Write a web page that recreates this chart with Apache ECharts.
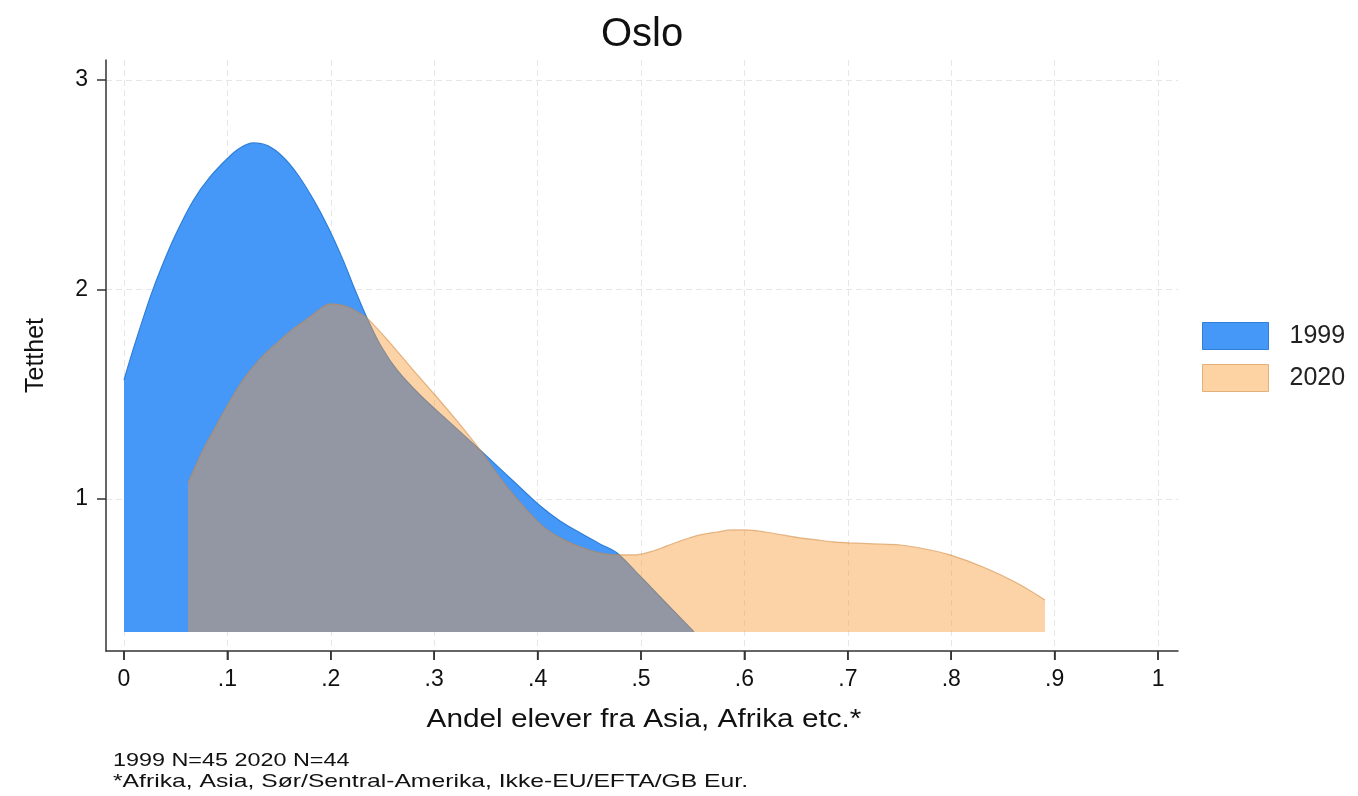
<!DOCTYPE html>
<html>
<head>
<meta charset="utf-8">
<script src="https://cdn.jsdelivr.net/npm/echarts@6/dist/echarts.min.js"></script>
<style>
html,body{margin:0;padding:0;background:#fff;}
#chart{width:1358px;height:796px;}
</style>
</head>
<body>
<div id="chart"></div>
<script>
// ---- data ----
const x1999 = [0, 0.0087, 0.0174, 0.0261, 0.0368, 0.0493, 0.0667, 0.0832, 0.1025, 0.1122, 0.1248, 0.1393, 0.1538, 0.1683, 0.1828, 0.1973, 0.2118, 0.2234, 0.2350, 0.2485, 0.2640, 0.2863, 0.3124, 0.3443, 0.3733, 0.4023, 0.4217, 0.4410, 0.4603, 0.4768, 0.4990, 0.5232, 0.5513];
const y1999 = [1.568, 1.711, 1.845, 1.974, 2.112, 2.255, 2.422, 2.537, 2.637, 2.675, 2.699, 2.685, 2.632, 2.546, 2.432, 2.298, 2.141, 1.998, 1.864, 1.730, 1.616, 1.496, 1.377, 1.234, 1.100, 0.967, 0.895, 0.838, 0.785, 0.742, 0.632, 0.508, 0.365];
const x2020 = [0.0619, 0.0764, 0.0832, 0.0986, 0.1151, 0.1315, 0.1480, 0.1634, 0.1799, 0.1896, 0.1992, 0.2137, 0.2244, 0.2350, 0.2573, 0.2795, 0.3008, 0.3221, 0.3443, 0.3704, 0.4023, 0.4217, 0.4410, 0.4603, 0.4768, 0.4942, 0.5087, 0.5251, 0.5406, 0.5571, 0.5735, 0.5880, 0.6025, 0.6199, 0.6373, 0.6538, 0.6702, 0.6857, 0.7021, 0.7263, 0.7505, 0.7747, 0.7988, 0.8308, 0.8636, 0.8907];
const y2020 = [1.076, 1.234, 1.296, 1.434, 1.568, 1.668, 1.745, 1.811, 1.869, 1.907, 1.931, 1.921, 1.897, 1.864, 1.745, 1.616, 1.496, 1.372, 1.234, 1.057, 0.881, 0.814, 0.771, 0.742, 0.733, 0.733, 0.747, 0.776, 0.804, 0.828, 0.842, 0.852, 0.852, 0.842, 0.828, 0.814, 0.804, 0.795, 0.790, 0.785, 0.780, 0.761, 0.733, 0.675, 0.599, 0.518];
const seriesNames = ['1999', '2020'];
const xTicks = [0, 0.1, 0.2, 0.3, 0.4, 0.5, 0.6, 0.7, 0.8, 0.9, 1];
const yTicks = [1, 2, 3];
const areaBase = 0.365;
const titleText = 'Oslo';
const xName = 'Andel elever fra Asia, Afrika etc.*';
const yName = 'Tetthet';
const noteLines = ['1999 N=45 2020 N=44', '*Afrika, Asia, Sør/Sentral-Amerika, Ikke-EU/EFTA/GB Eur.'];

const FONT = '"Liberation Sans", Arial, Helvetica, sans-serif';
const Y_MIN = 0.274, Y_MAX = 3.095;
const pair = (xs, ys) => xs.map((x, i) => [x, ys[i]]);
const fmtX = v => {
  if (Math.abs(v) < 1e-9) return '0';
  if (Math.abs(v - 1) < 1e-9) return '1';
  return '.' + Math.round(v * 10);
};

const chart = echarts.init(document.getElementById('chart'), null, {renderer: 'canvas'});
const gridLine = {show: true, lineStyle: {color: '#e6e6e6', type: [6, 4], width: 1}};
const axisCol = '#333';
chart.setOption({
  backgroundColor: '#ffffff',
  animation: false,
  title: {
    text: titleText, left: 596, top: 10,
    textStyle: {fontFamily: FONT, fontSize: 40, fontWeight: 'normal', color: '#111'}
  },
  grid: {left: 106, right: 180, top: 60, bottom: 145, containLabel: false},
  legend: {
    orient: 'vertical', left: 1202, top: 322, padding: 0,
    itemWidth: 66, itemHeight: 27, itemGap: 14,
    icon: 'rect',
    textStyle: {fontFamily: FONT, fontSize: 25, color: '#222', padding: [0, 0, 0, 16]},
    data: [
      {name: seriesNames[0], itemStyle: {color: '#4598f8', borderColor: '#2f7fd8', borderWidth: 1}},
      {name: seriesNames[1], itemStyle: {color: '#fdd3a4', borderColor: '#e3b07a', borderWidth: 1}}
    ]
  },
  xAxis: {
    type: 'value', min: -0.0174, max: 1.0193, position: 'bottom',
    axisLine: {show: true, onZero: false, lineStyle: {color: axisCol, width: 1.5}},
    axisTick: {show: true, inside: false, length: 9, lineStyle: {color: axisCol, width: 1.5}, customValues: xTicks},
    axisLabel: {show: true, fontFamily: FONT, fontSize: 23, color: '#111', margin: 17, formatter: fmtX, customValues: xTicks},
    splitLine: gridLine
  },
  yAxis: {
    type: 'value', min: Y_MIN, max: Y_MAX,
    name: yName, nameLocation: 'middle', nameGap: 57, nameRotate: 90,
    nameTextStyle: {fontFamily: FONT, fontSize: 25, color: '#111'},
    axisLine: {show: true, onZero: false, lineStyle: {color: axisCol, width: 1.5}},
    axisTick: {show: true, inside: false, length: 9, lineStyle: {color: axisCol, width: 1.5}, customValues: yTicks},
    axisLabel: {fontFamily: FONT, fontSize: 23, color: '#111', margin: 18, customValues: yTicks},
    splitLine: gridLine
  },
  series: [
    {
      name: seriesNames[0], type: 'line',
      smooth: 0.3, showSymbol: false, symbol: 'none',
      data: pair(x1999, y1999),
      itemStyle: {color: '#4598f8'},
      lineStyle: {color: '#2f7fd8', width: 1.2},
      areaStyle: {color: '#4598f8', opacity: 1, origin: areaBase},
      z: 2
    },
    {
      name: seriesNames[1], type: 'line',
      smooth: 0.3, showSymbol: false, symbol: 'none',
      data: pair(x2020, y2020),
      itemStyle: {color: '#fdd3a4'},
      lineStyle: {color: 'rgba(205,135,60,0.55)', width: 1.2},
      areaStyle: {color: 'rgb(248,150,50)', opacity: 0.43, origin: areaBase},
      z: 3
    },
    {
      // x tick marks placed through the x scale (outward from the axis line)
      name: 'xticks', type: 'custom', silent: true, clip: false, z: 10,
      data: xTicks.map(v => [v, Y_MIN]),
      encode: {x: 0, y: 1},
      renderItem: (params, api) => {
        const p = api.coord([api.value(0), api.value(1)]);
        return {
          type: 'line',
          shape: {x1: p[0], y1: p[1], x2: p[0], y2: p[1] + 9},
          style: {stroke: axisCol, lineWidth: 1.5}
        };
      }
    }
  ],
  graphic: [
    {type: 'text', x: 644, y: 720, scaleX: 1.19,
     style: {text: xName, font: '25px ' + FONT, fill: '#111', textAlign: 'center', textVerticalAlign: 'middle'}},
    {type: 'text', x: 113, y: 751, scaleX: 1.23, style: {text: noteLines[0], font: '19px ' + FONT, fill: '#111'}},
    {type: 'text', x: 113, y: 772, scaleX: 1.30, style: {text: noteLines[1], font: '19px ' + FONT, fill: '#111'}}
  ]
});
</script>
</body>
</html>
